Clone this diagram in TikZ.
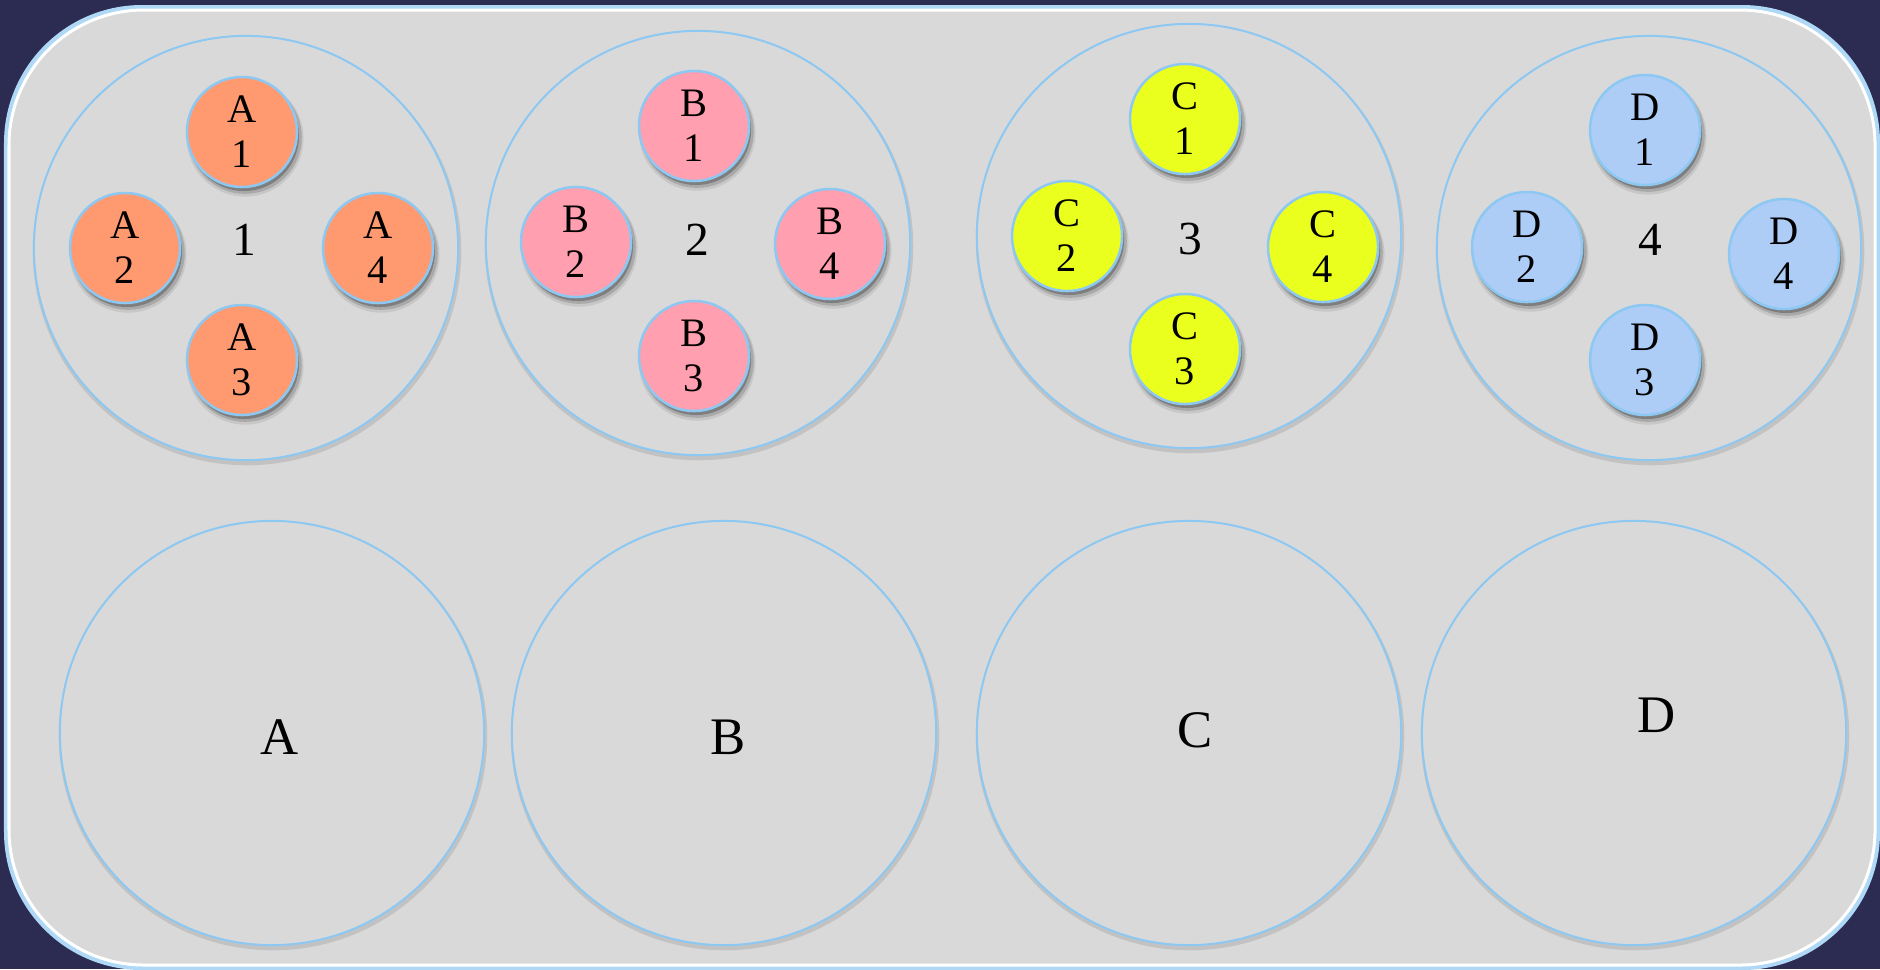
\documentclass[tikz,border=0pt]{standalone}
\usepackage{fontspec}
\setmainfont{Liberation Serif}
\usetikzlibrary{shadows}

\definecolor{navy}{HTML}{2C2B52}
\definecolor{tray}{HTML}{D9D9D9}
\definecolor{rim}{HTML}{8CC8F2}
\definecolor{cellA}{HTML}{FF9A70}
\definecolor{cellB}{HTML}{FF9FAF}
\definecolor{cellC}{HTML}{EAFF1E}
\definecolor{cellD}{HTML}{ADCDF7}

\begin{document}
\begin{tikzpicture}[
		x=0.01cm, y=-0.01cm,
		wellnode/.style={
		% The shape:
		circle,
		% The size:
		minimum size=4.24cm,
		% The border:
		draw=rim, line width=0.02cm,
		% The filling:
		fill=tray,
		general shadow={shadow xshift=0.01cm, shadow yshift=-0.03cm, shadow scale=1.01, opacity=0.1, fill=black}
		},
		cellnode/.style={
		% The shape:
		circle,
		% The size:
		minimum size=1.1cm, inner sep=0pt,
		% The border:
		draw=rim, line width=0.025cm,
		% Shadow (soft, in layers)
		general shadow={shadow xshift=0.03cm, shadow yshift=-0.06cm, shadow scale=1.06, opacity=0.08, fill=black},
		general shadow={shadow xshift=0.03cm, shadow yshift=-0.05cm, shadow scale=1.03, opacity=0.15, fill=black},
		general shadow={shadow xshift=0.02cm, shadow yshift=-0.04cm, opacity=0.25, fill=black},
		% Font
		align=center, font=\fontsize{11.5}{12.8}\selectfont
		},
		numnode/.style={font=\fontsize{13.5}{15}\selectfont},
		namenode/.style={font=\fontsize{15}{17}\selectfont}
	]
	% background and tray
	\fill[navy] (0,0) rectangle (1880,969);
	\useasboundingbox (0,0) rectangle (1880,969);
	\draw[rim!70!white, line width=0.06cm, fill=tray, rounded corners=1.35cm] (7,8) rectangle (1877,967);
	\draw[white, line width=0.03cm, rounded corners=1.35cm] (9,10) rectangle (1875,965);

	% upper wells
	\node (W1)[wellnode] at (246,248) {};
	\node (W2)[wellnode] at (698,243) {};
	\node (W3)[wellnode] at (1189,236) {};
	\node (W4)[wellnode] at (1649,248) {};

	\node (N1)[numnode] at (244,240) {1};
	\node (N2)[numnode] at (697,240) {2};
	\node (N3)[numnode] at (1190,239) {3};
	\node (N4)[numnode] at (1650,240) {4};

	\node (A1)[cellnode, fill=cellA] at (242,132) {A\\1};
	\node (A2)[cellnode, fill=cellA] at (125,248) {A\\2};
	\node (A3)[cellnode, fill=cellA] at (242,360) {A\\3};
	\node (A4)[cellnode, fill=cellA] at (378,248) {A\\4};

	\node (B1)[cellnode, fill=cellB] at (694,126) {B\\1};
	\node (B2)[cellnode, fill=cellB] at (576,242) {B\\2};
	\node (B3)[cellnode, fill=cellB] at (694,356) {B\\3};
	\node (B4)[cellnode, fill=cellB] at (830,244) {B\\4};

	\node (C1)[cellnode, fill=cellC] at (1185,119) {C\\1};
	\node (C2)[cellnode, fill=cellC] at (1067,236) {C\\2};
	\node (C3)[cellnode, fill=cellC] at (1185,349) {C\\3};
	\node (C4)[cellnode, fill=cellC] at (1323,247) {C\\4};

	\node (D1)[cellnode, fill=cellD] at (1645,130) {D\\1};
	\node (D2)[cellnode, fill=cellD] at (1527,247) {D\\2};
	\node (D3)[cellnode, fill=cellD] at (1645,360) {D\\3};
	\node (D4)[cellnode, fill=cellD] at (1784,254) {D\\4};

	% lower wells
	\node (WA)[wellnode] at (272,733) {};
	\node (WB)[wellnode] at (724,733) {};
	\node (WC)[wellnode] at (1189,733) {};
	\node (WD)[wellnode] at (1634,733) {};

	\node (LA)[namenode] at (280,737) {A};
	\node (LB)[namenode] at (728,737) {B};
	\node (LC)[namenode] at (1195,730) {C};
	\node (LD)[namenode] at (1657,715) {D};
\end{tikzpicture}
\end{document}
